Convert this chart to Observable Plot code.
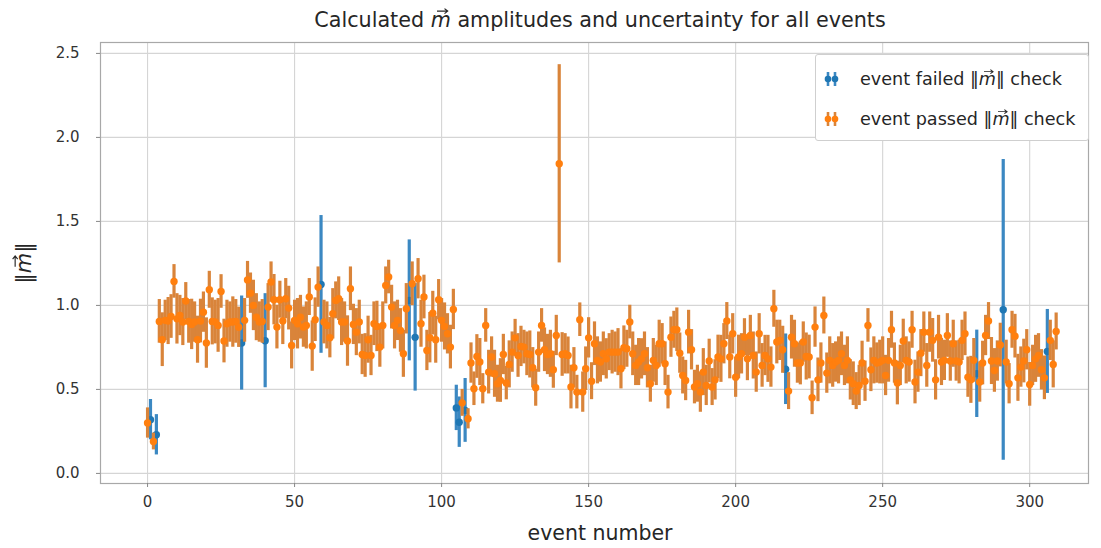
<!DOCTYPE html>
<html><head><meta charset="utf-8">
<script src="https://cdn.jsdelivr.net/npm/d3@7"></script>
<script src="https://cdn.jsdelivr.net/npm/@observablehq/plot@0.6"></script>
<style>
body{margin:0;background:#fff;font-family:"DejaVu Sans",sans-serif;color:#262626}
#wrap{position:relative;width:1101px;height:548px;overflow:hidden}
#title{position:absolute;left:0;width:1200px;top:8px;text-align:center;font-size:20.7px}
#chart{position:absolute;left:0;top:36px}
#xlabel{position:absolute;left:0;width:1200px;top:521px;text-align:center;font-size:20.5px}
#ylabel{position:absolute;left:24px;top:263px;transform:translate(-50%,-50%) rotate(-90deg);font-size:21px;white-space:nowrap}
#legend{position:absolute;left:815px;top:54px;width:274px;height:87px;border:1px solid #cfcfcf;border-radius:3px;background:#fff;box-sizing:border-box}
.row{position:absolute;left:8px;height:24px;display:flex;align-items:center;font-size:17.6px;white-space:nowrap}
.row svg.sym{margin-right:20px}
.vec{position:relative;display:inline-block;font-style:italic}
.vec svg{position:absolute;left:0.3em;top:0.02em;width:0.55em;height:0.3em;overflow:visible}
</style></head><body>
<div id="wrap">
  <div id="title"></div>
  <div id="chart"></div>
  <div id="ylabel"></div>
  <div id="xlabel"></div>
  <div id="legend"></div>
</div>
<script>
// ---- texts ----
const titleParts = ["Calculated ", " amplitudes and uncertainty for all events"];
const xLabel = "event number";
const seriesNames = [["event failed ‖", "‖ check"], ["event passed ‖", "‖ check"]];

// ---- tick labels ----
const xTicks = [0, 50, 100, 150, 200, 250, 300];
const yTicks = [0, 0.5, 1.0, 1.5, 2.0, 2.5];

// ---- failed events (blue) ----
const failedEvent = [1, 3, 32, 40, 59, 89, 91, 105, 106, 108, 217, 282, 291, 306];
const failedValue = [0.32, 0.23, 0.776, 0.79, 1.125, 1.03, 0.81, 0.39, 0.305, 0.375, 0.62, 0.593, 0.974, 0.726];
const failedError = [0.12, 0.12, 0.28, 0.28, 0.41, 0.36, 0.32, 0.135, 0.15, 0.19, 0.21, 0.26, 0.895, 0.25];

// ---- passed events (orange) ----
const passedEvent = [
  0, 2,
  4,5,6,7,8,9,10,11,12,13,14,15,16,17,18,19,20,21,22,23,24,25,26,27,28,29,30,31,
  33,34,35,36,37,38,39,
  41,42,43,44,45,46,47,48,49,50,51,52,53,54,55,56,57,58,
  60,61,62,63,64,65,66,67,68,69,70,71,72,73,74,75,76,77,78,79,80,81,82,83,84,85,86,87,88,
  90,
  92,93,94,95,96,97,98,99,100,101,102,103,104,
  107, 109,
  110,111,112,113,114,115,116,117,118,119,
  120,121,122,123,124,125,126,127,128,129,
  130,131,132,133,134,135,136,137,138,139,
  140,
  141,142,143,144,145,146,147,148,149,
  150,151,152,153,154,155,156,157,158,159,
  160,161,162,163,164,165,166,167,168,169,
  170,171,172,173,174,175,176,177,178,179,
  180,181,182,183,184,185,186,187,188,189,
  190,191,192,193,194,195,196,197,198,199,
  200,201,202,203,204,205,206,207,
  208,209,210,211,212,213,214,215,216,
  218,219,220,221,222,223,224,225,226,227,
  228,229,230,231,232,233,234,235,236,237,
  238,239,240,241,242,243,244,245,246,247,
  248,249,250,251,252,253,254,255,256,257,
  258,259,260,261,262,263,264,265,266,267,
  268,269,270,271,272,273,274,275,276,277,
  278,279,280,281,
  283,284,285,286,287,288,289,290,
  292,293,294,295,296,297,298,299,300,301,302,303,304,305,
  307,308,309
];
const passedValue = [
  0.30, 0.19,
  0.905,0.796,0.911,0.907,0.934,1.143,0.920,0.940,0.901,1.026,0.905,0.887,0.901,0.796,0.907,0.960,0.776,1.093,0.905,0.901,0.881,1.083,0.788,0.891,0.901,0.901,0.905,0.870,
  0.911,1.152,1.073,1.000,0.930,0.901,0.905,
  0.990,1.139,1.034,0.871,1.034,0.907,1.040,0.984,0.762,0.911,0.891,0.930,0.871,0.881,1.050,0.758,0.915,1.109,
  0.901,0.881,0.808,0.950,1.030,1.040,0.901,0.901,0.788,1.099,0.887,0.841,0.901,0.708,0.702,0.796,0.702,0.891,0.875,0.752,0.881,1.119,1.169,0.990,0.881,0.911,0.851,0.712,0.980,
  1.129,
  1.159,0.891,1.050,0.732,0.808,0.954,0.796,1.034,0.911,0.875,0.831,0.752,0.976,
  0.42, 0.325,
  0.657,0.504,0.696,0.663,0.504,0.881,0.603,0.693,0.593,0.534,
  0.553,0.708,0.538,0.649,0.722,0.807,0.702,0.756,0.752,0.712,
  0.708,0.629,0.510,0.722,0.881,0.736,0.708,0.712,0.617,0.821,
  1.843,
  0.708,0.712,0.702,0.514,0.629,0.484,0.915,0.484,0.623,
  0.807,0.549,0.772,0.673,0.663,0.712,0.682,0.722,0.722,0.722,
  0.722,0.623,0.748,0.742,0.901,0.712,0.643,0.663,0.682,0.712,
  0.629,0.534,0.673,0.643,0.772,0.772,0.653,0.484,0.811,0.855,
  0.855,0.716,0.583,0.553,0.841,0.736,0.514,0.534,0.484,0.603,
  0.524,0.669,0.514,0.557,0.693,0.682,0.772,0.907,0.693,0.831,
  0.573,0.693,0.712,0.811,0.682,0.821,0.702,0.603,
  0.831,0.643,0.702,0.682,0.633,0.980,0.782,0.792,0.736,
  0.490,0.811,0.772,0.657,0.657,0.782,0.696,0.693,0.450,0.871,
  0.557,0.657,0.940,0.597,0.673,0.643,0.663,0.673,0.712,0.643,
  0.673,0.557,0.534,0.490,0.524,0.657,0.549,0.881,0.617,0.673,
  0.657,0.663,0.673,0.583,0.673,0.855,0.657,0.538,0.643,0.788,
  0.673,0.663,0.855,0.544,0.603,0.716,0.841,0.643,0.841,0.792,
  0.557,0.811,0.663,0.673,0.821,0.669,0.772,0.669,0.663,0.792,
  0.831,0.573,0.557,0.673,
  0.544,0.657,0.821,0.907,0.669,0.613,0.669,0.764,
  0.663,0.534,0.855,0.817,0.569,0.633,0.669,0.736,0.530,0.643,0.682,0.702,0.617,0.569,
  0.792,0.649,0.845
];
const passedError = [
  0.09, 0.05,
  0.13,0.16,0.12,0.14,0.13,0.10,0.15,0.12,0.14,0.11,0.13,0.15,0.12,0.14,0.13,0.12,0.15,0.11,0.14,0.13,0.16,0.10,0.13,0.14,0.12,0.15,0.13,0.12,
  0.13,0.11,0.12,0.15,0.14,0.12,0.13,
  0.14,0.12,0.15,0.13,0.11,0.14,0.12,0.13,0.14,0.12,0.15,0.13,0.12,0.14,0.11,0.15,0.13,0.12,
  0.13,0.14,0.12,0.15,0.11,0.13,0.14,0.12,0.15,0.13,0.12,0.14,0.13,0.12,0.13,0.14,0.12,0.13,0.15,0.12,0.14,0.11,0.10,0.13,0.14,0.12,0.13,0.14,0.15,
  0.13,
  0.12,0.14,0.13,0.12,0.15,0.13,0.14,0.12,0.13,0.14,0.12,0.13,0.12,
  0.08, 0.06,
  0.12,0.10,0.13,0.14,0.09,0.10,0.13,0.12,0.14,0.11,
  0.13,0.12,0.10,0.14,0.12,0.11,0.13,0.12,0.10,0.13,
  0.14,0.12,0.11,0.12,0.10,0.13,0.12,0.14,0.11,0.12,
  0.59,
  0.13,0.12,0.11,0.13,0.12,0.10,0.10,0.12,0.13,
  0.12,0.11,0.13,0.14,0.12,0.13,0.12,0.11,0.13,0.12,
  0.14,0.12,0.13,0.11,0.10,0.13,0.12,0.14,0.12,0.13,
  0.12,0.11,0.13,0.12,0.14,0.12,0.13,0.10,0.12,0.11,
  0.13,0.12,0.11,0.12,0.13,0.12,0.10,0.11,0.12,0.14,
  0.12,0.13,0.11,0.12,0.13,0.14,0.12,0.11,0.13,0.12,
  0.12,0.13,0.12,0.11,0.13,0.12,0.14,0.12,
  0.12,0.13,0.12,0.14,0.12,0.11,0.13,0.12,0.14,
  0.11,0.13,0.14,0.12,0.13,0.12,0.14,0.13,0.10,0.12,
  0.13,0.12,0.11,0.12,0.14,0.13,0.12,0.14,0.13,0.12,
  0.14,0.12,0.13,0.11,0.12,0.13,0.12,0.10,0.13,0.14,
  0.12,0.13,0.14,0.12,0.13,0.11,0.12,0.13,0.12,0.13,
  0.14,0.12,0.11,0.13,0.12,0.14,0.12,0.13,0.12,0.13,
  0.12,0.13,0.14,0.12,0.13,0.12,0.14,0.12,0.13,0.12,
  0.13,0.12,0.14,0.13,
  0.12,0.13,0.12,0.11,0.14,0.13,0.12,0.13,
  0.13,0.12,0.11,0.13,0.14,0.12,0.13,0.12,0.13,0.12,0.14,0.13,0.12,0.13,
  0.12,0.14,0.11
];

// ---- colours ----
const failedDot = "#1f77b4", failedBar = "#3b88c2";
const passedDot = "#ff7f0e", passedBar = "#d9843a";

if (passedEvent.length !== passedValue.length || passedEvent.length !== passedError.length) {
  throw new Error("length mismatch " + passedEvent.length + " " + passedValue.length + " " + passedError.length);
}

const failed = failedEvent.map((e, i) => ({event: e, value: failedValue[i], lo: failedValue[i] - failedError[i], hi: failedValue[i] + failedError[i]}));
const passed = passedEvent.map((e, i) => ({event: e, value: passedValue[i], lo: passedValue[i] - passedError[i], hi: passedValue[i] + passedError[i]}));

const chart = Plot.plot({
  width: 1101, height: 512,
  marginTop: 6, marginBottom: 65, marginLeft: 100, marginRight: 13,
  style: {fontFamily: "'DejaVu Sans', sans-serif", fontSize: "15px", color: "#262626", background: "transparent"},
  x: {domain: [-16, 320]},
  y: {domain: [-0.06, 2.565]},
  marks: [
    Plot.gridX(xTicks, {stroke: "#d5d5d5", strokeOpacity: 1, strokeWidth: 1.1}),
    Plot.gridY(yTicks, {stroke: "#d5d5d5", strokeOpacity: 1, strokeWidth: 1.1}),
    Plot.ruleX(failed, {x: "event", y1: "lo", y2: "hi", stroke: failedBar, strokeWidth: 3.2}),
    Plot.dot(failed, {x: "event", y: "value", r: 3.7, fill: failedDot}),
    Plot.ruleX(passed, {x: "event", y1: "lo", y2: "hi", stroke: passedBar, strokeWidth: 3.2}),
    Plot.dot(passed, {x: "event", y: "value", r: 3.7, fill: passedDot}),
    Plot.frame({stroke: "#a8a8a8", strokeWidth: 1.2}),
    Plot.axisX(xTicks, {tickSize: 4, tickPadding: 9, stroke: "#888", fill: "#333", label: null, fontSize: 15}),
    Plot.axisY(yTicks, {tickSize: 4, tickPadding: 17, stroke: "#888", fill: "#333", label: null, fontSize: 15, tickFormat: d3.format(".1f")})
  ]
});
document.getElementById("chart").appendChild(chart);

// vector m: italic m with a small drawn arrow accent above it
function vecM() {
  return '<span class="vec">m<svg viewBox="0 0 10 6" preserveAspectRatio="none" aria-hidden="true">' +
    '<path d="M0 3H9.2M6.6 0.6L9.4 3L6.6 5.4" stroke="currentColor" fill="none" stroke-width="1.1"/></svg></span>';
}
document.getElementById("title").innerHTML = titleParts[0] + vecM() + titleParts[1];
document.getElementById("xlabel").textContent = xLabel;
document.getElementById("ylabel").innerHTML = "‖" + vecM() + "‖";

// legend
const legend = document.getElementById("legend");
[[failedDot, failedBar, 12], [passedDot, passedBar, 52]].forEach(([dc, bc, top], i) => {
  const row = document.createElement("div");
  row.className = "row";
  row.style.top = top + "px";
  const ns = "http://www.w3.org/2000/svg";
  const svg = document.createElementNS(ns, "svg");
  svg.setAttribute("class", "sym");
  svg.setAttribute("width", 16); svg.setAttribute("height", 18);
  [4, 11].forEach(cx => {
    const l = document.createElementNS(ns, "line");
    l.setAttribute("x1", cx); l.setAttribute("x2", cx); l.setAttribute("y1", 2); l.setAttribute("y2", 16);
    l.setAttribute("stroke", bc); l.setAttribute("stroke-width", 2.6);
    svg.appendChild(l);
    const c = document.createElementNS(ns, "circle");
    c.setAttribute("cx", cx); c.setAttribute("cy", 9); c.setAttribute("r", 3.3); c.setAttribute("fill", dc);
    svg.appendChild(c);
  });
  row.appendChild(svg);
  const t = document.createElement("span");
  t.innerHTML = seriesNames[i][0] + vecM() + seriesNames[i][1];
  row.appendChild(t);
  legend.appendChild(row);
});
</script>
</body></html>
